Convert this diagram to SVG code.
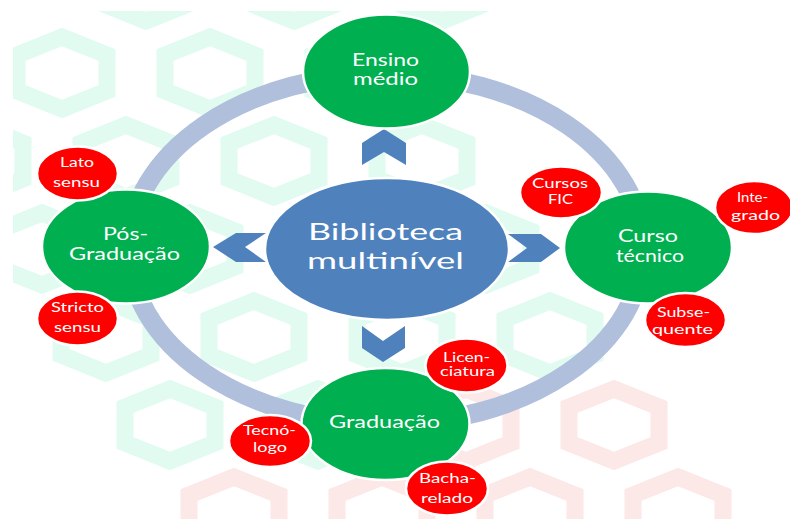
<svg xmlns="http://www.w3.org/2000/svg" xmlns:xlink="http://www.w3.org/1999/xlink" width="790" height="519" viewBox="0 0 790 519">
<defs>
<style>
.mint{fill:none;stroke:#e1fbf0;stroke-width:17;stroke-linejoin:miter}
.pink{fill:none;stroke:#fde8e8;stroke-width:17;stroke-linejoin:miter}
.ring{fill:none;stroke:#afbfdc;stroke-width:19}
.chev{fill:#4f81bd}
.center{fill:#4f81bd;stroke:#ffffff;stroke-width:2.5}
.green{fill:#00b050;stroke:#ffffff;stroke-width:2.5}
.red{fill:#ff0000;stroke:#ffffff;stroke-width:2.5}
text{font-family:Lato,"Open Sans","Liberation Sans",sans-serif;fill:#ffffff;text-anchor:middle}
.tc{font-size:24px}
.tg{font-size:17px}
.tr{font-size:12.5px}
</style>
<polygon id="hx" points="0,-36 45,-18 45,18 0,36 -45,18 -45,-18"/>
<clipPath id="bgclip"><rect x="13" y="11" width="777" height="508"/></clipPath>
</defs>
<g id="background" clip-path="url(#bgclip)">
<g class="mint">
<use xlink:href="#hx" x="146" y="-15"/><use xlink:href="#hx" x="294" y="-15"/><use xlink:href="#hx" x="442" y="-15"/>
<use xlink:href="#hx" x="62" y="73"/><use xlink:href="#hx" x="210" y="73"/><use xlink:href="#hx" x="358" y="73"/>
<use xlink:href="#hx" x="-22" y="161"/><use xlink:href="#hx" x="126" y="161"/><use xlink:href="#hx" x="274" y="161"/><use xlink:href="#hx" x="422" y="161"/>
<use xlink:href="#hx" x="42" y="249"/><use xlink:href="#hx" x="190" y="249"/><use xlink:href="#hx" x="338" y="249"/><use xlink:href="#hx" x="486" y="249"/>
<use xlink:href="#hx" x="106" y="337"/><use xlink:href="#hx" x="254" y="337"/><use xlink:href="#hx" x="402" y="337"/><use xlink:href="#hx" x="550" y="337"/>
<use xlink:href="#hx" x="170" y="425"/><use xlink:href="#hx" x="318" y="425"/>
</g>
<g class="pink">
<use xlink:href="#hx" x="466" y="425"/><use xlink:href="#hx" x="614" y="425"/>
<use xlink:href="#hx" x="234" y="513"/><use xlink:href="#hx" x="382" y="513"/><use xlink:href="#hx" x="530" y="513"/><use xlink:href="#hx" x="678" y="513"/>
</g>
</g>
<g id="connectors">
<ellipse class="ring" cx="386" cy="249" rx="257" ry="175"/>
<polygon class="chev" points="362,165 384,152 406,165 406,143 384,129 362,143"/>
<polygon class="chev" points="362,326 383,341 405,326 405,348 383,362 362,348"/>
<polygon class="chev" points="266,233 236,233 213,247 236,262 266,262 245,247"/>
<polygon class="chev" points="508,234 541,234 560,248 541,262 508,262 527,248"/>
</g>
<g id="node-center">
<ellipse class="center" cx="387" cy="249" rx="122" ry="71"/>
<text class="tc" x="385.5" y="240" textLength="155" lengthAdjust="spacingAndGlyphs">Biblioteca</text>
<text class="tc" x="385.5" y="269" textLength="157" lengthAdjust="spacingAndGlyphs">multinível</text>
</g>
<g id="node-ensino-medio">
<ellipse class="green" cx="386.5" cy="71.5" rx="83.5" ry="57"/>
<text class="tg" x="385.5" y="66" textLength="67" lengthAdjust="spacingAndGlyphs">Ensino</text>
<text class="tg" x="385.5" y="85" textLength="65" lengthAdjust="spacingAndGlyphs">médio</text>
</g>
<g id="node-pos-graduacao">
<ellipse class="green" cx="126" cy="246.5" rx="84" ry="57"/>
<text class="tg" x="125.5" y="240" textLength="45" lengthAdjust="spacingAndGlyphs">Pós-</text>
<text class="tg" x="124.5" y="260" textLength="111" lengthAdjust="spacingAndGlyphs">Graduação</text>
</g>
<g id="node-curso-tecnico">
<ellipse class="green" cx="648" cy="247.5" rx="84" ry="56"/>
<text class="tg" x="648" y="242" textLength="60" lengthAdjust="spacingAndGlyphs">Curso</text>
<text class="tg" x="650" y="262" textLength="68" lengthAdjust="spacingAndGlyphs">técnico</text>
</g>
<g id="node-graduacao">
<ellipse class="green" cx="385.5" cy="424" rx="84" ry="56"/>
<text class="tg" x="384.5" y="428" textLength="111" lengthAdjust="spacingAndGlyphs">Graduação</text>
</g>
<g id="node-lato-sensu">
<ellipse class="red" cx="77.5" cy="173.5" rx="40.5" ry="27"/>
<text class="tr" x="77" y="167" textLength="34" lengthAdjust="spacingAndGlyphs">Lato</text>
<text class="tr" x="76.5" y="187" textLength="47" lengthAdjust="spacingAndGlyphs">sensu</text>
</g>
<g id="node-stricto-sensu">
<ellipse class="red" cx="77.5" cy="318.5" rx="40.5" ry="27"/>
<text class="tr" x="77.5" y="312" textLength="53" lengthAdjust="spacingAndGlyphs">Stricto</text>
<text class="tr" x="77.5" y="332" textLength="47" lengthAdjust="spacingAndGlyphs">sensu</text>
</g>
<g id="node-cursos-fic">
<ellipse class="red" cx="561" cy="192.5" rx="41" ry="26"/>
<text class="tr" x="560" y="188" textLength="56" lengthAdjust="spacingAndGlyphs">Cursos</text>
<text class="tr" x="560.5" y="204" textLength="25" lengthAdjust="spacingAndGlyphs">FIC</text>
</g>
<g id="node-integrado">
<ellipse class="red" cx="754" cy="207.5" rx="39" ry="26.5"/>
<text class="tr" x="752.5" y="202" textLength="31" lengthAdjust="spacingAndGlyphs">Inte-</text>
<text class="tr" x="755.5" y="220" textLength="49" lengthAdjust="spacingAndGlyphs">grado</text>
</g>
<g id="node-subsequente">
<ellipse class="red" cx="685.5" cy="320" rx="40.5" ry="27"/>
<text class="tr" x="683.5" y="317" textLength="53" lengthAdjust="spacingAndGlyphs">Subse-</text>
<text class="tr" x="682.5" y="334" textLength="61" lengthAdjust="spacingAndGlyphs">quente</text>
</g>
<g id="node-licenciatura">
<ellipse class="red" cx="466.5" cy="365.5" rx="41" ry="27"/>
<text class="tr" x="466.5" y="362" textLength="47" lengthAdjust="spacingAndGlyphs">Licen-</text>
<text class="tr" x="467.5" y="376" textLength="55" lengthAdjust="spacingAndGlyphs">ciatura</text>
</g>
<g id="node-bacharelado">
<ellipse class="red" cx="447" cy="488.5" rx="41" ry="27"/>
<text class="tr" x="447.5" y="483" textLength="57" lengthAdjust="spacingAndGlyphs">Bacha-</text>
<text class="tr" x="447" y="503" textLength="52" lengthAdjust="spacingAndGlyphs">relado</text>
</g>
<g id="node-tecnologo">
<ellipse class="red" cx="270" cy="441" rx="41" ry="26"/>
<text class="tr" x="269.5" y="435" textLength="53" lengthAdjust="spacingAndGlyphs">Tecnó-</text>
<text class="tr" x="270" y="452" textLength="34" lengthAdjust="spacingAndGlyphs">logo</text>
</g>
</svg>
